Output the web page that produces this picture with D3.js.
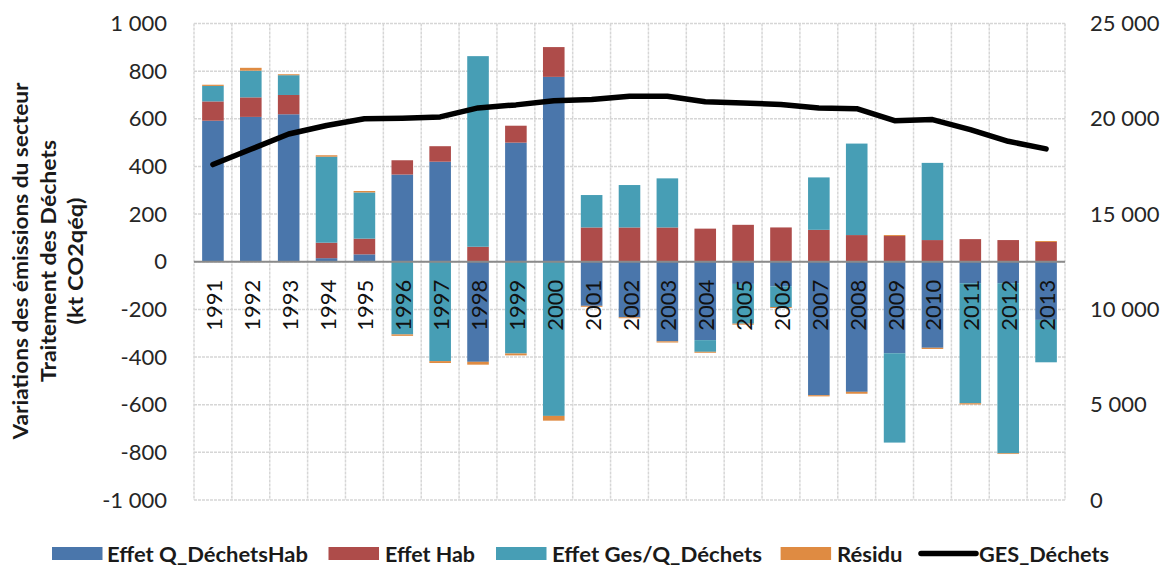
<!DOCTYPE html>
<html><head><meta charset="utf-8">
<script src="https://cdn.jsdelivr.net/npm/d3@7"></script>
<style>
html,body{margin:0;padding:0;background:#fff;}
svg{display:block;font-family:Lato,"Open Sans",sans-serif;}
</style></head>
<body><svg id="chart" width="1168" height="565"></svg>
<script>
// ---- data ----
const years = ["1991","1992","1993","1994","1995","1996","1997","1998","1999","2000","2001","2002","2003","2004","2005","2006","2007","2008","2009","2010","2011","2012","2013"];
const effetQDechetsHab = [592,608,619,15,31,366,420,-420,500,776,-185,-233,-334,-329,-93,-103,-560,-546,-384,-361,-90,-90,-244];
const effetHab = [81,82,81,65,66,60,65,63,71,125,144,144,144,139,155,144,134,112,108,91,95,91,83];
const effetGesQDechets = [65,112,83,361,194,-305,-417,800,-385,-647,136,178,206,-49,-167,-87,220,384,-375,324,-504,-714,-178];
const residu = [5,12,4,6,6,-6,-8,-12,-8,-20,-4,-4,-5,-4,-4,-4,-5,-8,4,-5,-5,-3,4];
const gesDechets = [17600,18400,19200,19650,20000,20030,20100,20570,20730,20950,21010,21180,21180,20890,20830,20750,20570,20530,19900,19960,19430,18820,18420];
const seriesNames = ["Effet Q_DéchetsHab","Effet Hab","Effet Ges/Q_Déchets","Résidu"];
const lineName = "GES_Déchets";
const leftTicks = [-1000,-800,-600,-400,-200,0,200,400,600,800,1000];
const rightTicks = [0,5000,10000,15000,20000,25000];
const yTitle = ["Variations des émissions du secteur","Traitement des Déchets","(kt CO2qéq)"];

// ---- styles ----
const colors = ["#4a76ab","#ae4c4a","#479eb5","#df8b42"];
const svg = d3.select("#chart");

const table = years.map((yr,i)=>({year:yr, s0:effetQDechetsHab[i], s1:effetHab[i], s2:effetGesQDechets[i], s3:residu[i]}));
const keys = ["s0","s1","s2","s3"];

const x = d3.scaleBand().domain(years).range([194,1065]).paddingInner(0.43).paddingOuter(0.215);
const y = d3.scaleLinear().domain([-1000,1000]).range([500,23.5]);
const y2 = d3.scaleLinear().domain([0,25000]).range([500,23.5]);

const fmt = v => { const s = d3.format(",")(Math.abs(v)).replace(/,/g," "); return (v<0?"-":"")+s; };

// gridlines
const grid = svg.append("g");
grid.selectAll("line.h").data(leftTicks).join("line")
  .attr("x1",194).attr("x2",1065).attr("y1",d=>y(d)).attr("y2",d=>y(d))
  .attr("stroke","#d6d6d6").attr("stroke-width",1.5).attr("stroke-dasharray","3,1");
const step = x.step(), off = (x.step()-x.bandwidth())/2;
const bounds = years.map(d=>x(d)-off).concat([x(years[years.length-1])-off+step]);
grid.selectAll("line.v").data(bounds).join("line")
  .attr("x1",d=>d).attr("x2",d=>d).attr("y1",y(1000)).attr("y2",y(-1000))
  .attr("stroke","#d6d6d6").attr("stroke-width",1.5).attr("stroke-dasharray","3,1");

// stacked bars
const stack = d3.stack().keys(keys).offset(d3.stackOffsetDiverging);
const stacked = stack(table);
svg.append("g").selectAll("g").data(stacked).join("g")
  .attr("fill",(d,i)=>colors[i])
  .selectAll("rect").data(d=>d).join("rect")
  .attr("x",d=>x(d.data.year)).attr("width",x.bandwidth())
  .attr("y",d=>y(Math.max(d[0],d[1]))).attr("height",d=>Math.abs(y(d[0])-y(d[1])));

// zero axis line
svg.append("line").attr("x1",194).attr("x2",1065).attr("y1",y(0)).attr("y2",y(0))
  .attr("stroke","#8a8a8a").attr("stroke-width",1.8);

// x labels
const xa = svg.append("g").attr("transform",`translate(0,${y(0)})`)
  .call(d3.axisBottom(x).tickSize(0).tickPadding(0));
xa.select(".domain").remove();
xa.selectAll("text").attr("transform","translate(0,18) rotate(-90)")
  .attr("x",0).attr("y",9).attr("dy",0).attr("text-anchor","end")
  .attr("font-size",22).attr("font-family","Lato").attr("fill","#111");

// left axis
const la = svg.append("g").attr("transform","translate(194,0)")
  .call(d3.axisLeft(y).tickValues(leftTicks).tickSize(0).tickPadding(27).tickFormat(fmt));
la.select(".domain").remove();
la.selectAll("text").attr("font-size",22).attr("font-family","Lato").attr("fill","#262626");

// right axis
const ra = svg.append("g").attr("transform","translate(1065,0)")
  .call(d3.axisRight(y2).tickValues(rightTicks).tickSize(0).tickPadding(25).tickFormat(fmt));
ra.select(".domain").remove();
ra.selectAll("text").attr("font-size",22).attr("font-family","Lato").attr("fill","#262626");

// line
const line = d3.line().x((d,i)=>x(years[i])+x.bandwidth()/2).y(d=>y2(d));
svg.append("path").datum(gesDechets).attr("d",line).attr("fill","none")
  .attr("stroke","#000").attr("stroke-width",5.5).attr("stroke-linejoin","round").attr("stroke-linecap","round");

// y title
const titleBase = [28,56,83], titleLen = [357,242,127];
yTitle.forEach((t,i)=>{
  svg.append("text").attr("transform",`translate(${titleBase[i]},261) rotate(-90)`)
    .attr("text-anchor","middle").attr("font-size",20).attr("font-weight",700)
    .attr("font-family","Lato").attr("fill","#1a1a1a")
    .attr("textLength",titleLen[i]).attr("lengthAdjust","spacingAndGlyphs").text(t);
});

// legend
const lg = svg.append("g");
const sw = [52,328.5,496,780.6];
const tx = [107,385,552,837,979];
const tl = [201,90,210,65.5,130];
seriesNames.forEach((n,i)=>{
  lg.append("rect").attr("x",sw[i]).attr("y",547).attr("width",50.5).attr("height",13).attr("fill",colors[i]);
});
lg.append("line").attr("x1",921).attr("x2",976).attr("y1",553.5).attr("y2",553.5)
  .attr("stroke","#000").attr("stroke-width",5.5).attr("stroke-linecap","round");
seriesNames.concat([lineName]).forEach((n,i)=>{
  lg.append("text").attr("x",tx[i]).attr("y",561.5).attr("font-size",20).attr("font-weight",700)
    .attr("font-family","Lato").attr("fill","#1a1a1a")
    .attr("textLength",tl[i]).attr("lengthAdjust","spacingAndGlyphs").text(n);
});
</script></body></html>
